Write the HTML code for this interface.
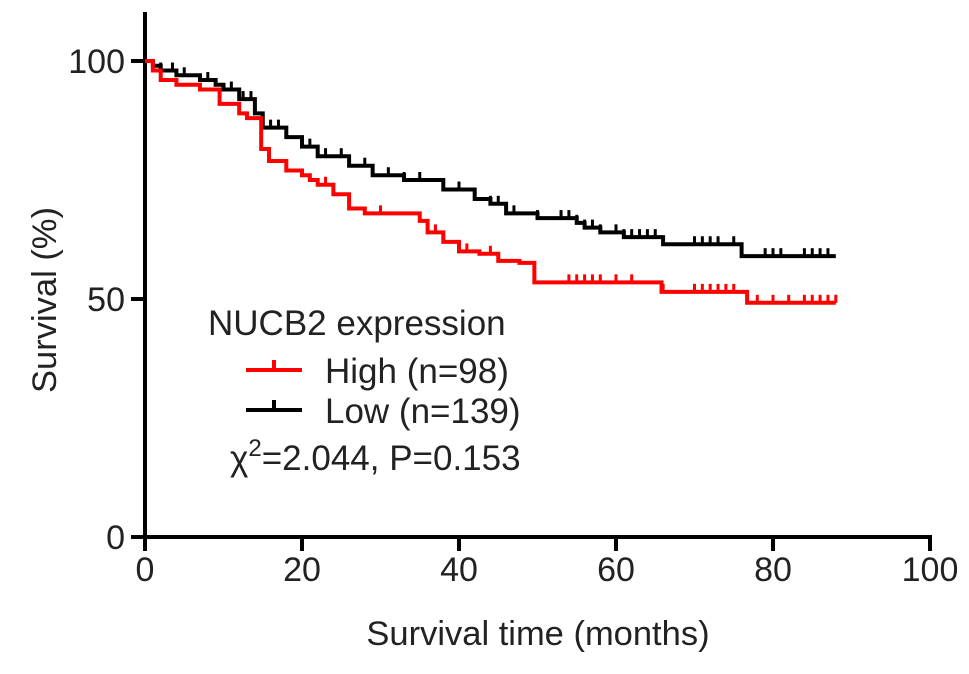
<!DOCTYPE html>
<html><head><meta charset="utf-8"><style>
body{margin:0;background:#fff}
svg text{font-family:"Liberation Sans",Arial,sans-serif;fill:#222}
</style></head><body>
<svg id="chart" width="969" height="669" viewBox="0 0 969 669">
<g id="axes"></g><g id="plot"></g><g id="legend"></g>
</svg>
<script>
const xTicks=[0,20,40,60,80,100];
const yTicks=[0,50,100];
const highTimes=[0,1,2,4,7,9.5,12,13,14.8,15.8,18,20,21,22,24,26,28,35,36,38,40,42.6,45,47.7,49.6,65.8,76.7];
const highSurv=[100,98,96,95,94,91,89,88,81.5,79,77,76,75,74,72,69,68,66.4,64,62,60,59.5,58,57.6,53.5,51.5,49.2];
const highEnd=88;
const highCensor=[23,30,37,41,44,54,55,56,57,58,60,62,66,70,71,72,73,74,75,78,80,82,84,85,86,87,88];
const lowTimes=[0,1,2,4,7,9,10,12,14,15,18,20,22,26,29,33,38,42,44,46,50,55,56,58,61,66,76];
const lowSurv=[100,99,98,97,96,95,94,92,89,86,84,82,80,78,76,75,73,71,70,68,67,66,65,64,63,61.5,59];
const lowEnd=88;
const lowCensor=[2,3.5,5,8,11,12.5,13.5,16,17,21,23,25,28,31,33,35,40,44,45,47,50,53,54,55,56,57,58,60,61,62,63,64,65,70,71,72,73,75,79,80,81,84,85,86,87];
const x=v=>145+v*7.85, y=v=>537-v*4.76;
const NS='http://www.w3.org/2000/svg';
function mk(tag,attrs,parent){const e=document.createElementNS(NS,tag);for(const k in attrs)e.setAttribute(k,attrs[k]);parent.appendChild(e);return e;}
const axes=document.getElementById('axes'),plot=document.getElementById('plot'),leg=document.getElementById('legend');
let a=mk('line',{x1:145,y1:12,x2:145,y2:539,stroke:'#000','stroke-width':4},axes);

a=mk('line',{x1:143,y1:537,x2:932,y2:537,stroke:'#000','stroke-width':4},axes);

xTicks.forEach(t=>{
 const l=mk('line',{x1:x(t),y1:537,x2:x(t),y2:551,stroke:'#000','stroke-width':4},axes);
 
 const tx=mk('text',{x:x(t),y:581,'text-anchor':'middle','font-size':34},axes);tx.textContent=t;
 
});
yTicks.forEach(t=>{
 const l=mk('line',{x1:131,y1:y(t),x2:145,y2:y(t),stroke:'#000','stroke-width':4},axes);
 
 const tx=mk('text',{x:125,y:y(t)+12,'text-anchor':'end','font-size':34},axes);tx.textContent=t;
 
});
let tt=mk('text',{x:538,y:645,'text-anchor':'middle','font-size':34.5},axes);tt.textContent='Survival time (months)';

tt=mk('text',{x:0,y:0,'text-anchor':'middle','font-size':34.5,transform:'translate(56,300) rotate(-90)'},axes);tt.textContent='Survival (%)';

function survAt(ts,ss,t){let s=ss[0];for(let i=0;i<ts.length;i++)if(ts[i]<=t)s=ss[i];return s;}
function curve(ts,ss,end,cens,color,name){
 let d='M'+x(ts[0])+','+y(ss[0]);
 for(let i=1;i<ts.length;i++){d+='H'+x(ts[i])+'V'+y(ss[i]);}
 d+='H'+x(end);
 const p=mk('path',{d:d,fill:'none',stroke:color,'stroke-width':4},plot);
 
 cens.forEach(c=>{const s=survAt(ts,ss,c);
  const l=mk('line',{x1:x(c),y1:y(s),x2:x(c),y2:y(s)-8,stroke:color,'stroke-width':3},plot);
  });
}
curve(lowTimes,lowSurv,lowEnd,lowCensor,'#000','low');
curve(highTimes,highSurv,highEnd,highCensor,'#ff0000','high');
let t=mk('text',{x:208,y:335,'font-size':35},leg);t.textContent='NUCB2 expression';

[[370,'#ff0000','High (n=98)','legend-entry-high'],[410,'#000','Low (n=139)','legend-entry-low']].forEach(r=>{
 const l=mk('path',{d:`M246,${r[0]}H302M274,${r[0]}V${r[0]-10}`,stroke:r[1],'stroke-width':4,fill:'none'},leg);
 
 const tx=mk('text',{x:325,y:r[0]+13,'font-size':35},leg);tx.textContent=r[2];
 
});
t=mk('text',{x:230,y:470,'font-size':35},leg);
t.innerHTML='χ<tspan dy="-14" font-size="24">2</tspan><tspan dy="14">=2.044, P=0.153</tspan>';

</script>
</body></html>
